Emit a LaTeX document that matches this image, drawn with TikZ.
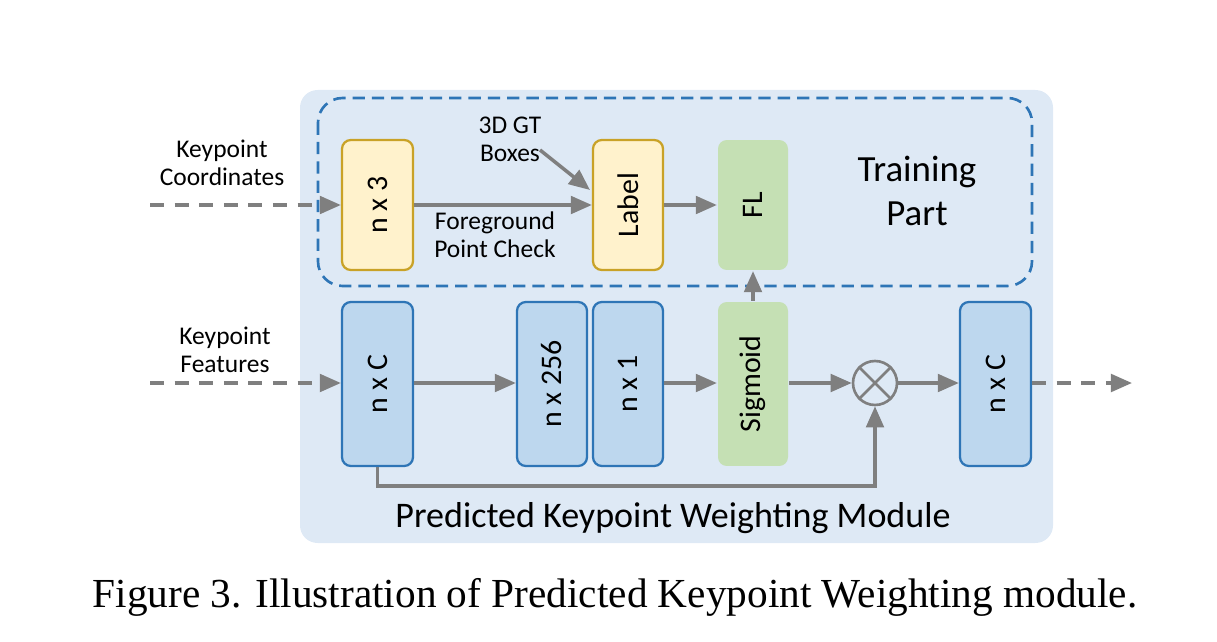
\documentclass[tikz,border=0pt]{standalone}
\usepackage{fontspec}
\setmainfont{Carlito}
\newfontfamily\capfont{Liberation Serif}
\usetikzlibrary{arrows.meta}
\definecolor{bgb}{HTML}{DEE9F5}
\definecolor{dblue}{HTML}{2E75B6}
\definecolor{yfill}{HTML}{FFF2CC}
\definecolor{ybord}{HTML}{C9A227}
\definecolor{gfill}{HTML}{C5E0B4}
\definecolor{bfill}{HTML}{BDD7EE}
\definecolor{arr}{HTML}{7F7F7F}
\begin{document}
\begin{tikzpicture}[x=0.02cm,y=-0.02cm,
  box/.style={rounded corners=5pt,line width=1.3pt},
  ybox/.style={box,fill=yfill,draw=ybord},
  bbox/.style={box,fill=bfill,draw=dblue},
  gbox/.style={box,fill=gfill},
  lab/.style={font=\fontsize{17}{17}\selectfont,rotate=90},
  txt/.style={font=\fontsize{14.5}{16}\selectfont,align=center},
  a/.style={draw=arr,line width=2pt,-{Triangle[length=12pt,width=10pt]}},
  da/.style={a,dashed,dash pattern=on 8pt off 6pt}]
\useasboundingbox (0,0) rectangle (1217,642);
\fill[bgb,rounded corners=10pt] (300,90) rectangle (1053,543);
\draw[dblue,line width=1.5pt,dashed,dash pattern=on 7pt off 4pt,rounded corners=14pt] (318,98) rectangle (1032,286);
\node[ybox,minimum width=1.42cm,minimum height=2.6cm] (n3) at (377.5,205) {};
\node[lab] at (n3) {n x 3};
\node[ybox,minimum width=1.4cm,minimum height=2.6cm] (label) at (628,205) {};
\node[lab] at (label) {Label};
\node[gbox,minimum width=1.4cm,minimum height=2.6cm] (fl) at (753,205) {};
\node[lab] at (fl) {FL};
\node[font=\fontsize{21}{25}\selectfont,align=center] (tp) at (917,191) {Training\\Part};
\node[txt] (gt) at (510,139) {3D GT\\Boxes};
\node[txt] (fg) at (495,235) {Foreground\\Point Check};
\node[txt] (kc) at (222,163) {Keypoint\\Coordinates};
\node[txt] (kf) at (225,350) {Keypoint\\Features};
\node[bbox,minimum width=1.42cm,minimum height=3.28cm] (nc1) at (377.5,384) {};
\node[lab] at (nc1) {n x C};
\node[bbox,minimum width=1.4cm,minimum height=3.28cm] (n256) at (552,384) {};
\node[lab] at (n256) {n x 256};
\node[bbox,minimum width=1.4cm,minimum height=3.28cm] (n1) at (628,384) {};
\node[lab] at (n1) {n x 1};
\node[gbox,minimum width=1.4cm,minimum height=3.28cm] (sig) at (753,384) {};
\node[lab] at (sig) {Sigmoid};
\node[circle,draw=arr,line width=1.5pt,fill=bgb,minimum size=0.88cm,inner sep=0pt] (ot) at (875,383) {};
\draw[arr,line width=1.5pt] (ot.45)--(ot.225) (ot.135)--(ot.315);
\node[bbox,minimum width=1.42cm,minimum height=3.28cm] (nc2) at (995.5,384) {};
\node[lab] at (nc2) {n x C};
\node[font=\fontsize{20.5}{22}\selectfont] (mod) at (673,518) {Predicted Keypoint Weighting Module};
\node[font=\capfont\fontsize{23.5}{28}\selectfont] (cap) at (615,597) {Figure 3. Illustration of Predicted Keypoint Weighting module.};
\coordinate (c1) at (150,205);
\coordinate (c2) at (150,383);
\coordinate (c3) at (1132,383);
\draw[da] (c1) -- (n3.west);
\draw[da] (c2) -- (nc1.west |- c2);
\draw[da] (nc2.east |- c3) -- (c3);
\draw[a] (n3.east) -- (label.west);
\draw[a] (label.east) -- (fl.west);
\draw[a] (540,150) -- (590,190);
\draw[a] (nc1.east |- 0,383) -- (n256.west |- 0,383);
\draw[a] (n1.east |- 0,383) -- (sig.west |- 0,383);
\draw[a] (sig.east |- 0,383) -- (ot.west);
\draw[a] (ot.east) -- (nc2.west |- 0,383);
\draw[a] (sig.north) -- (fl.south);
\draw[a] (nc1.south) -- (377.5,486) -- (875,486) -- (ot.south);
\end{tikzpicture}
\end{document}
